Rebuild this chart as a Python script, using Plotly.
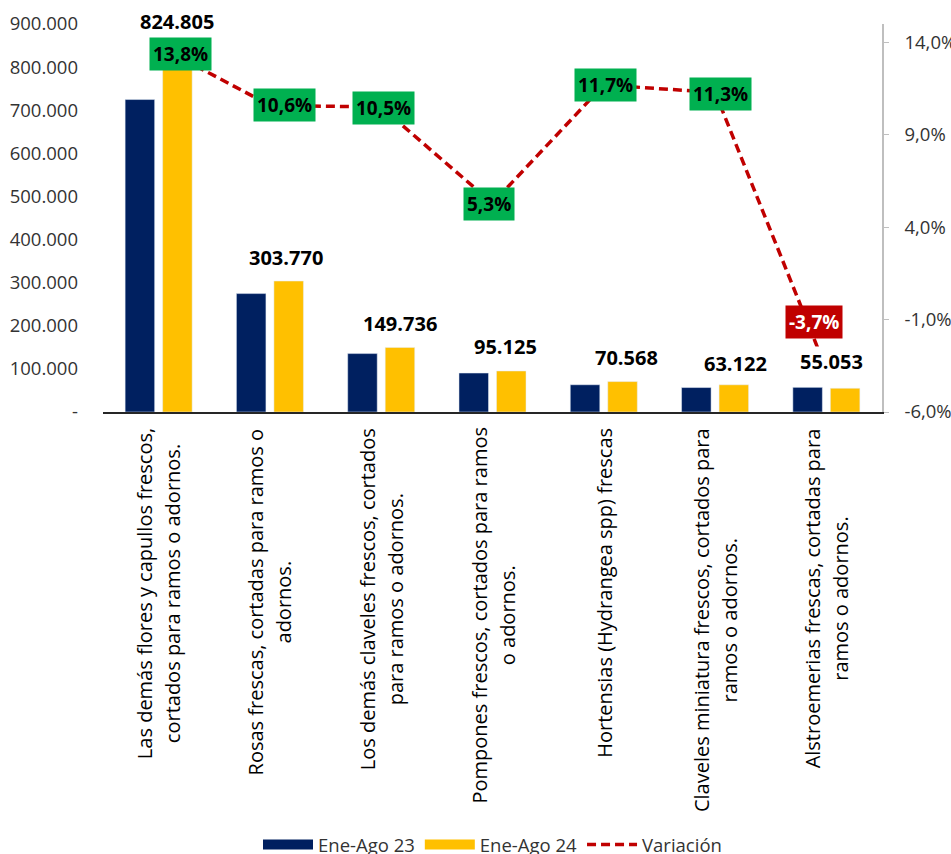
import plotly.graph_objects as go

# ---------------- data ----------------
categories = [
    "Las demás flores y capullos frescos, cortados para ramos o adornos.",
    "Rosas frescas, cortadas para ramos o adornos.",
    "Los demás claveles frescos, cortados para ramos o adornos.",
    "Pompones frescos, cortados para ramos o adornos.",
    "Hortensias (Hydrangea spp) frescas",
    "Claveles miniatura frescos, cortados para ramos o adornos.",
    "Alstroemerias frescas, cortadas para ramos o adornos.",
]
category_lines = [
    ["Las demás flores y capullos frescos,", "cortados para ramos o adornos."],
    ["Rosas frescas, cortadas para ramos o", "adornos."],
    ["Los demás claveles frescos, cortados", "para ramos o adornos."],
    ["Pompones frescos, cortados para ramos", "o adornos."],
    ["Hortensias (Hydrangea spp) frescas"],
    ["Claveles miniatura frescos, cortados para", "ramos o adornos."],
    ["Alstroemerias frescas, cortadas para", "ramos o adornos."],
]
ene_ago_23 = [724785, 274656, 135508, 90337, 63176, 56714, 57168]
ene_ago_24 = [824805, 303770, 149736, 95125, 70568, 63122, 55053]
variacion = [13.8, 10.6, 10.5, 5.3, 11.7, 11.3, -3.7]

left_ticks = [0, 100000, 200000, 300000, 400000, 500000, 600000, 700000, 800000, 900000]
right_ticks = [-6, -1, 4, 9, 14]

# ---------------- style ----------------
NAVY = "#002060"
GOLD = "#FFC000"
RED = "#C00000"
GREEN = "#00B050"
TXT = "#333333"
FONT = "Open Sans"

# label offsets (pixels) for layout only
pct_shift = [(22, -8), (15, 0), (2, -1), (-4, -1), (2, 0), (5, -2), (-12, 48)]
val_shift = [(18, 19), (16, 8), (19, 8), (13, 9), (23, 9), (20, 6), (5, 11)]

def fmt_thousands(v):
    return "-" if v == 0 else f"{v:,}".replace(",", ".")

def fmt_pct(v):
    return f"{v:.1f}".replace(".", ",") + "%"

fig = go.Figure()
fig.add_trace(go.Bar(x=categories, y=ene_ago_23, name="Ene-Ago 23",
                     marker=dict(color=NAVY), showlegend=False))
fig.add_trace(go.Bar(x=categories, y=ene_ago_24, name="Ene-Ago 24",
                     marker=dict(color=GOLD), showlegend=False))
fig.add_trace(go.Scatter(x=categories, y=variacion, name="Variación", yaxis="y2",
                         mode="lines", line=dict(color=RED, width=3.5, dash="9px,5px"),
                         showlegend=False))

# legend-only entries (wide swatches)
fig.add_trace(go.Scatter(x=[None], y=[None], mode="lines", name="Ene-Ago 23",
                         line=dict(color=NAVY, width=13)))
fig.add_trace(go.Scatter(x=[None], y=[None], mode="lines", name="Ene-Ago 24",
                         line=dict(color=GOLD, width=13)))
fig.add_trace(go.Scatter(x=[None], y=[None], mode="lines", name="Variación",
                         line=dict(color=RED, width=3.5, dash="9px,5px")))

annotations = []
# value labels above gold bars
for i, (c, v) in enumerate(zip(categories, ene_ago_24)):
    annotations.append(dict(
        x=c, y=v, xref="x", yref="y", text=f"<b>{fmt_thousands(v)}</b>",
        showarrow=False, xanchor="center", yanchor="bottom",
        xshift=val_shift[i][0], yshift=val_shift[i][1],
        font=dict(family=FONT, size=20, color="#000000"),
        bgcolor="#FFFFFF" if i == len(categories) - 1 else None, borderpad=1))

# percentage boxes
for i, (c, v) in enumerate(zip(categories, variacion)):
    neg = v < 0
    annotations.append(dict(
        x=c, y=v, xref="x", yref="y2", text=f"<b>{fmt_pct(v)}</b>",
        showarrow=False, xanchor="center", yanchor="middle",
        xshift=pct_shift[i][0], yshift=pct_shift[i][1],
        font=dict(family=FONT, size=19, color="#FFFFFF" if neg else "#000000"),
        bgcolor=RED if neg else GREEN, borderpad=3))

# category labels (vertical, centered lines)
gap_extra = 1
for c, lines in zip(categories, category_lines):
    n = len(lines)
    for j in range(n):
        parts = []
        for k, ln in enumerate(lines):
            if k == j:
                parts.append(ln)
            else:
                parts.append(f"<span style='color:rgba(0,0,0,0)'>{ln}</span>")
        shift = 0 if n == 1 else (-gap_extra if j == 0 else gap_extra)
        annotations.append(dict(
            x=c, y=0, xref="x", yref="paper", text="<br>".join(parts),
            showarrow=False, textangle=-90, align="center",
            xanchor="center", yanchor="top", yshift=-14, xshift=shift,
            font=dict(family=FONT, size=20, color="#000000")))

fig.update_layout(
    width=951, height=854,
    margin=dict(l=103, r=69, t=24, b=442, autoexpand=False),
    paper_bgcolor="#FFFFFF", plot_bgcolor="#FFFFFF",
    separators=",.",
    barmode="group", bargap=0.326, bargroupgap=0.213,
    font=dict(family=FONT, size=18, color=TXT),
    xaxis=dict(showticklabels=False, showline=True, linecolor="#262626", linewidth=1.5,
               ticks="", showgrid=False, zeroline=False),
    yaxis=dict(range=[0, 900000], tickvals=left_ticks,
               ticktext=[fmt_thousands(v) for v in left_ticks],
               showgrid=False, zeroline=False, showline=False, ticks="",
               ticklabelstandoff=24, tickfont=dict(family=FONT, size=18.5, color=TXT)),
    yaxis2=dict(range=[-6, 15], overlaying="y", side="right", tickvals=right_ticks,
                ticktext=[fmt_pct(v) for v in right_ticks],
                showgrid=False, zeroline=False, showline=True, linecolor="#BFBFBF",
                linewidth=1.5, ticks="outside", ticklen=5, tickcolor="#BFBFBF",
                ticklabelstandoff=12, tickfont=dict(family=FONT, size=18.5, color=TXT)),
    legend=dict(orientation="h", x=0.5, xanchor="center", y=-1.116, yanchor="middle",
                font=dict(family=FONT, size=18.5, color=TXT), itemwidth=50,
                traceorder="normal", bgcolor="rgba(0,0,0,0)"),
    annotations=annotations,
)

fig.write_html("out.html", config={"displayModeBar": False},
               post_script="document.body.style.margin='0';document.body.style.overflow='hidden';")
